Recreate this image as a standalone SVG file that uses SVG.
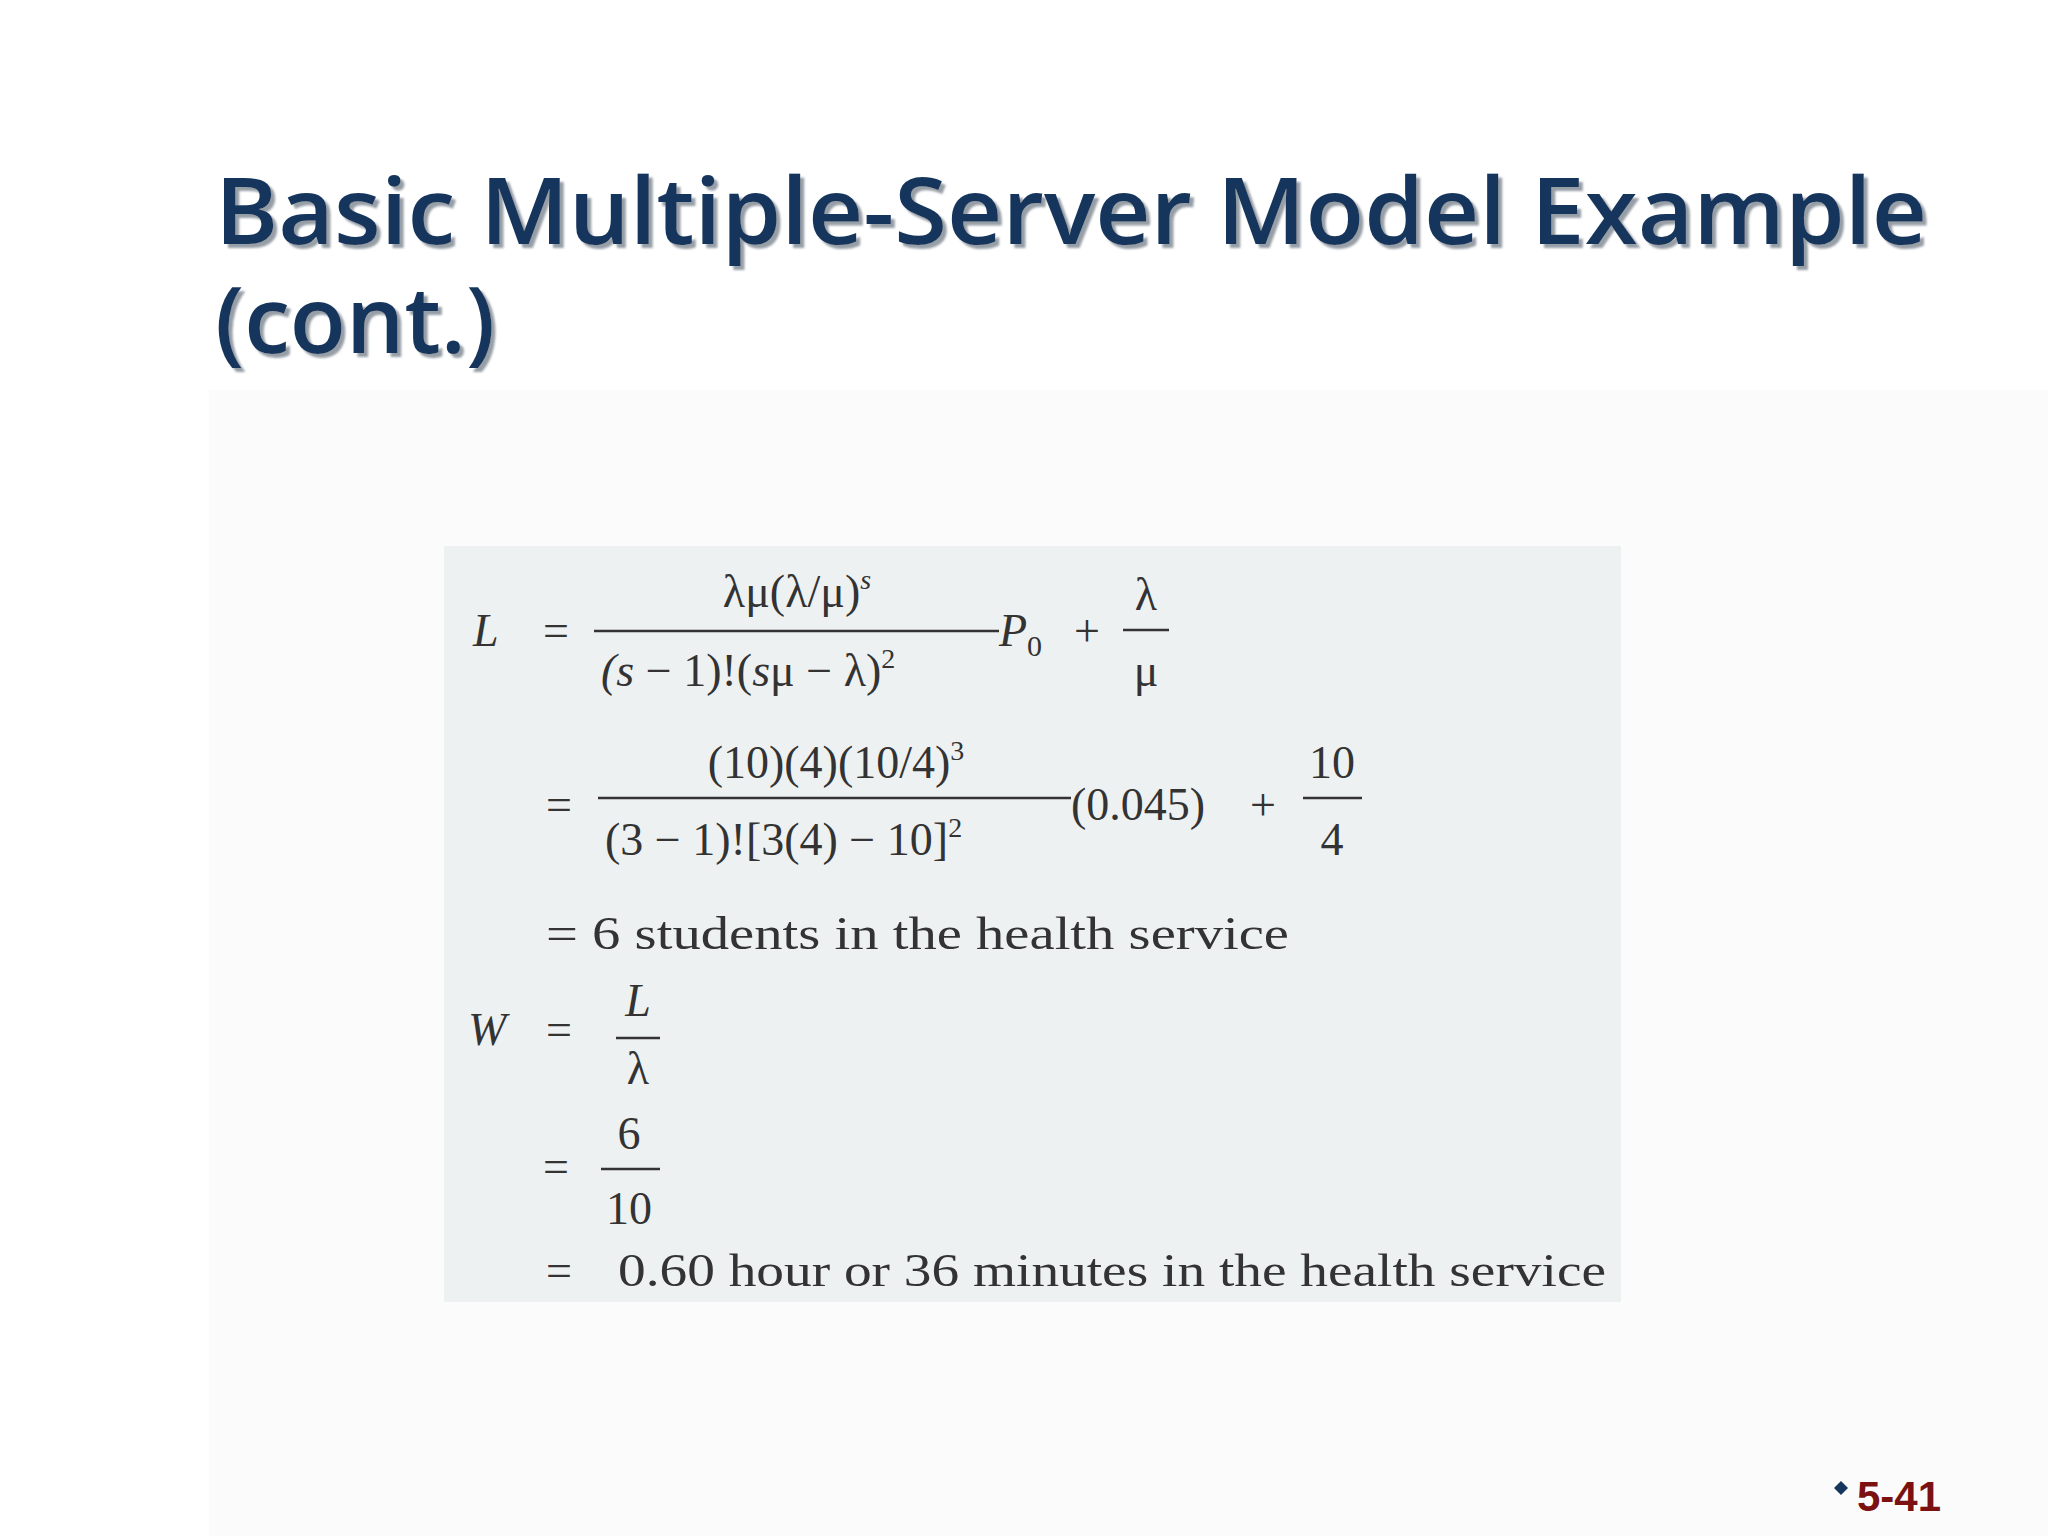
<svg xmlns="http://www.w3.org/2000/svg" width="2048" height="1536" viewBox="0 0 2048 1536">
<defs>
<filter id="shadow" x="-5%" y="-20%" width="110%" height="140%">
<feDropShadow dx="4" dy="4" stdDeviation="1" flood-color="#8a939c" flood-opacity="0.9"/>
</filter>
</defs>
<style>
.t{font-family:"Open Sans","Liberation Sans",sans-serif;font-size:92px;font-weight:600;fill:#17365D}
.m{font-family:"Liberation Serif",serif;font-size:46px;fill:#333}
.i{font-style:italic}
.fl{stroke:#333;stroke-width:2.5}
</style>
<rect width="2048" height="1536" fill="#fff"/>
<rect x="209" y="390" width="1839" height="1146" fill="#fbfbfb"/>
<g id="title" filter="url(#shadow)">
<text class="t" x="215" y="244" textLength="1712" lengthAdjust="spacingAndGlyphs">Basic Multiple-Server Model Example</text>
<text class="t" x="215" y="353">(cont.)</text>
</g>
<g id="formula">
<rect x="444" y="546" width="1177" height="756" fill="#eef1f2"/>
<text class="m i" x="473" y="646">L</text>
<text class="m" x="543" y="646">=</text>
<text class="m" x="797" y="607" text-anchor="middle">λμ(λ/μ)<tspan class="i" font-size="28" dy="-18">s</tspan></text>
<line class="fl" x1="594" y1="631" x2="999" y2="631"/>
<text class="m" x="601" y="686"><tspan class="i">(s</tspan> − 1)!(<tspan class="i">s</tspan>μ − λ)<tspan font-size="28" dy="-18">2</tspan></text>
<text class="m i" x="999" y="646">P<tspan font-size="30" dy="10" font-style="normal">0</tspan></text>
<text class="m" x="1074" y="646">+</text>
<text class="m" x="1146" y="610" text-anchor="middle">λ</text>
<line class="fl" x1="1123" y1="630" x2="1169" y2="630"/>
<text class="m" x="1146" y="686" text-anchor="middle">μ</text>

<text class="m" x="546" y="820">=</text>
<text class="m" x="836" y="778" text-anchor="middle">(10)(4)(10/4)<tspan font-size="28" dy="-18">3</tspan></text>
<line class="fl" x1="598" y1="798" x2="1071" y2="798"/>
<text class="m" x="605" y="855">(3 − 1)![3(4) − 10]<tspan font-size="28" dy="-18">2</tspan></text>
<text class="m" x="1071" y="820">(0.045)</text>
<text class="m" x="1250" y="820">+</text>
<text class="m" x="1332" y="778" text-anchor="middle">10</text>
<line class="fl" x1="1303" y1="798" x2="1362" y2="798"/>
<text class="m" x="1332" y="855" text-anchor="middle">4</text>

<text class="m" x="546" y="949" textLength="743" lengthAdjust="spacingAndGlyphs">= 6 students in the health service</text>

<text class="m i" x="468" y="1045">W</text>
<text class="m" x="546" y="1045">=</text>
<text class="m i" x="638" y="1016" text-anchor="middle">L</text>
<line class="fl" x1="616" y1="1038" x2="660" y2="1038"/>
<text class="m" x="638" y="1084" text-anchor="middle">λ</text>

<text class="m" x="543" y="1182">=</text>
<text class="m" x="629" y="1149" text-anchor="middle">6</text>
<line class="fl" x1="601" y1="1169" x2="660" y2="1169"/>
<text class="m" x="629" y="1224" text-anchor="middle">10</text>

<text class="m" x="546" y="1286">=</text>
<text class="m" x="618" y="1286" textLength="988" lengthAdjust="spacingAndGlyphs">0.60 hour or 36 minutes in the health service</text>
</g>
<g id="footer">
<path d="M1841 1481 l7 7 l-7 7 l-7 -7z" fill="#17365D"/>
<text x="1857" y="1511" font-family="'Liberation Sans',sans-serif" font-weight="bold" font-size="42" fill="#7B1111">5-41</text>
</g>
</svg>
